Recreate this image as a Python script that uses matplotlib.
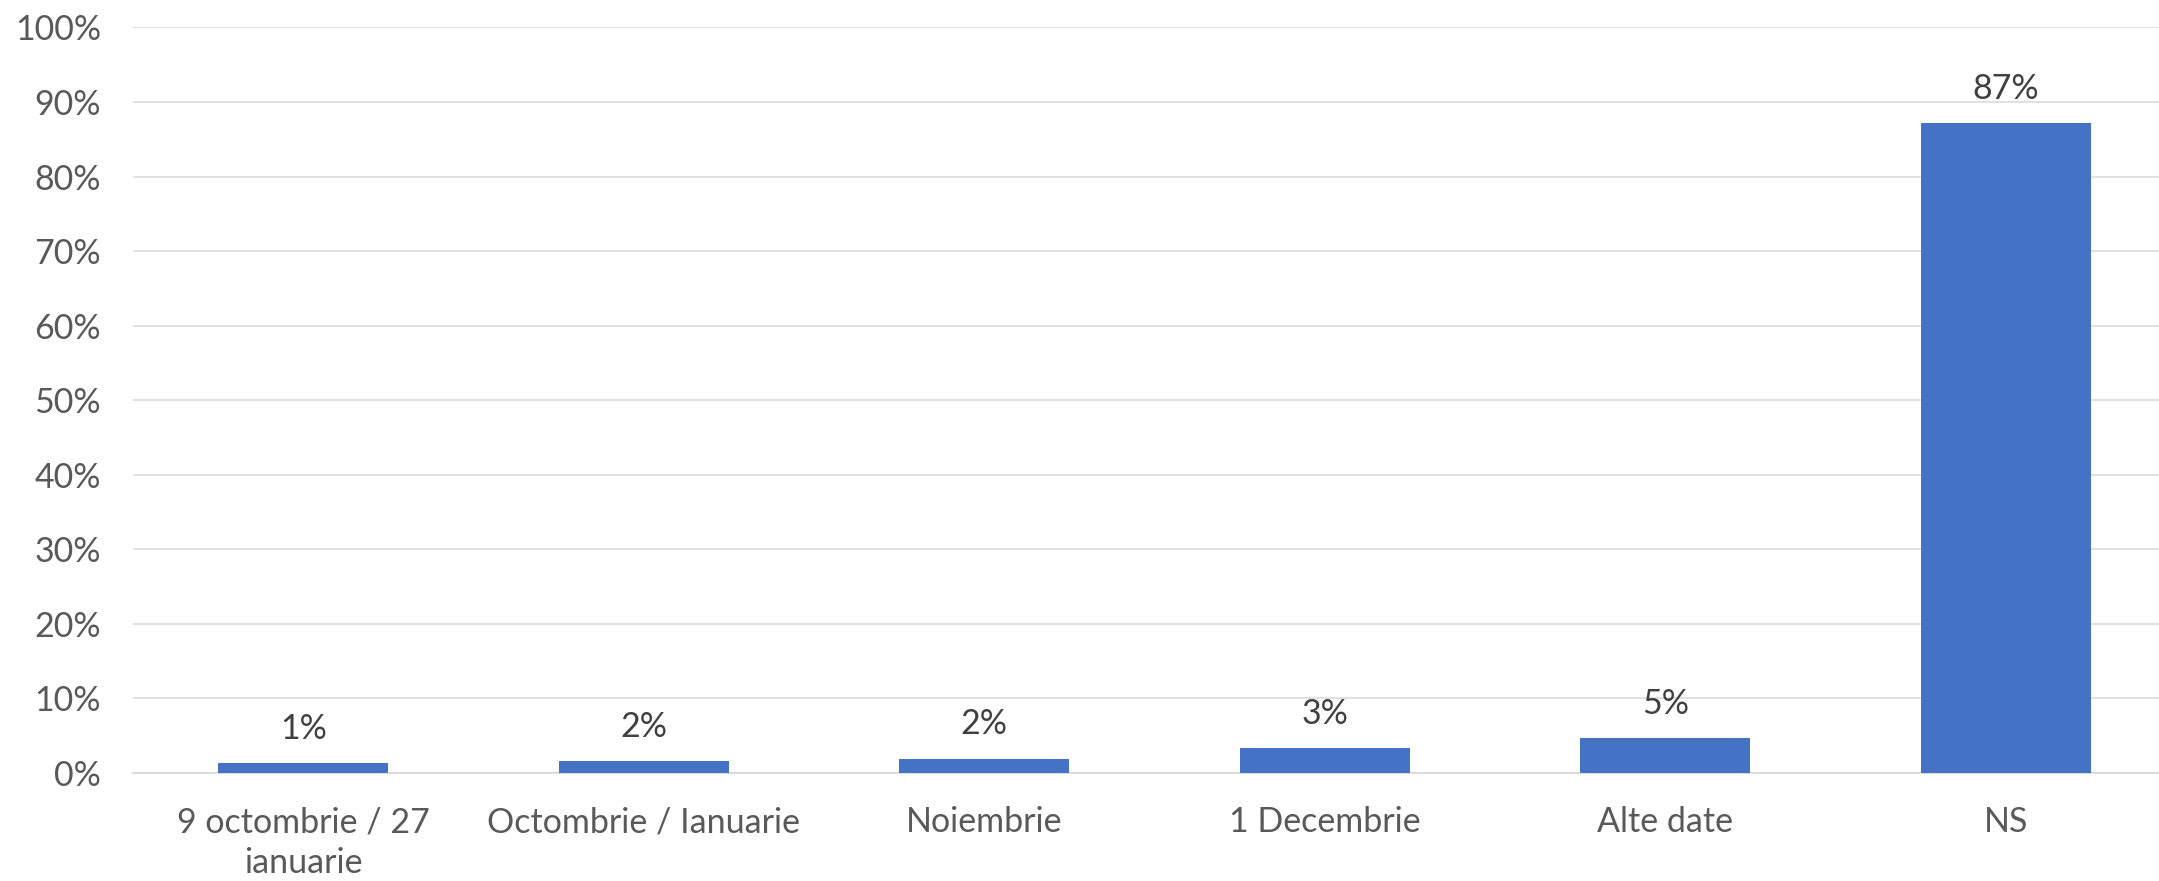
import matplotlib
matplotlib.use("Agg")
import matplotlib.pyplot as plt

categories = ['9 octombrie / 27\nianuarie', 'Octombrie / Ianuarie', 'Noiembrie',
              '1 Decembrie', 'Alte date', 'NS']
values = [1.3, 1.55, 1.9, 3.3, 4.7, 87.2]
yticks = [0, 10, 20, 30, 40, 50, 60, 70, 80, 90, 100]

plt.rcParams['font.family'] = ['Lato', 'DejaVu Sans']

fig = plt.figure(figsize=(21.59, 8.81), dpi=100)
ax = fig.add_axes([133 / 2159, 108.3 / 881, 2043 / 2159, 745.2 / 881])

x = range(len(categories))
bars = ax.bar(x, values, width=0.5, color='#4472C4', zorder=3)

for b, v in zip(bars, values):
    ax.annotate(f'{v:.0f}%', (b.get_x() + b.get_width() / 2, v),
                xytext=(0, 13), textcoords='offset points',
                ha='center', va='bottom', fontsize=24.5, color='#404040')

ax.set_xlim(-0.5, len(categories) - 0.5)
ax.set_ylim(0, 100)
ax.set_yticks(yticks)
ax.set_yticklabels([f'{t}%' for t in yticks])
ax.set_xticks(list(x))
ax.set_xticklabels(categories, linespacing=1.36)

ax.tick_params(axis='y', length=0, pad=23, labelsize=24.5, labelcolor='#595959')
ax.tick_params(axis='x', length=0, pad=24, labelsize=24.5, labelcolor='#595959')

ax.grid(axis='y', color='#d9d9d9', linewidth=1.1, zorder=0)
ax.set_axisbelow(True)
for s in ['top', 'right', 'left']:
    ax.spines[s].set_visible(False)
ax.spines['bottom'].set_color('#d9d9d9')
ax.spines['bottom'].set_linewidth(1.3)

fig.savefig('out.png', dpi=100)
